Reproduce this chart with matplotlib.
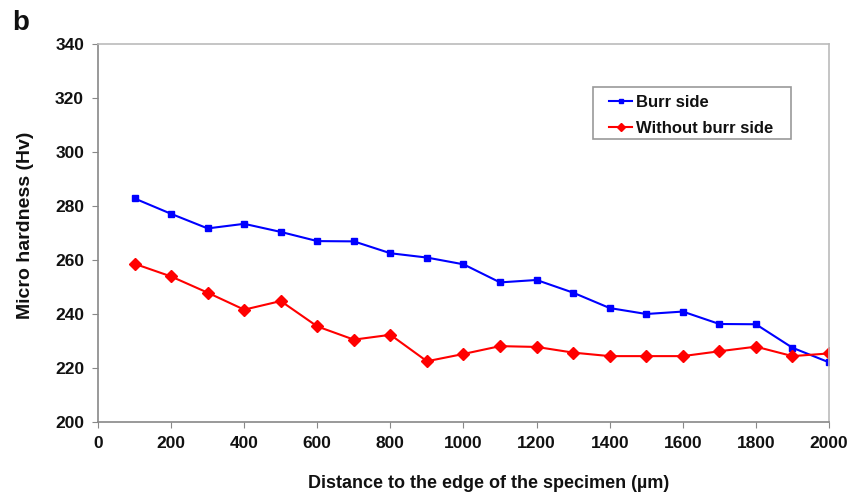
import matplotlib
matplotlib.use('Agg')
import matplotlib.pyplot as plt
from matplotlib.patches import Rectangle

# distance to edge (um)
distance = [100, 200, 300, 400, 500, 600, 700, 800, 900, 1000,
            1100, 1200, 1300, 1400, 1500, 1600, 1700, 1800, 1900, 2000]

# micro hardness (Hv)
burr_side = [282.8, 277.1, 271.7, 273.4, 270.4, 267.0, 266.9, 262.5, 260.9, 258.4,
             251.7, 252.6, 247.9, 242.2, 240.0, 240.9, 236.3, 236.2, 227.5, 222.1]
without_burr = [258.6, 253.9, 247.9, 241.6, 244.8, 235.4, 230.5, 232.3, 222.5, 225.2,
                228.1, 227.8, 225.7, 224.4, 224.4, 224.4, 226.2, 227.9, 224.4, 225.4]

xticks = list(range(0, 2001, 200))
yticks = list(range(200, 341, 20))

plt.rcParams['font.family'] = ['Liberation Sans', 'DejaVu Sans']
plt.rcParams['font.weight'] = 'bold'

fig = plt.figure(figsize=(8.62, 4.93), dpi=100)
ax = fig.add_axes([98 / 862, 71 / 493, 731 / 862, 378 / 493])

ax.plot(distance, burr_side, '-s', color='#0000ff', lw=1.5, ms=5, label='Burr side')
ax.plot(distance, without_burr, '-D', color='#ff0000', lw=1.5, ms=6, label='Without burr side')

ax.set_xlim(0, 2000)
ax.set_ylim(200, 340)
ax.set_xticks(xticks)
ax.set_yticks(yticks)
ax.tick_params(direction='out', length=4, color='#888888', labelsize=12.5, pad=6,
               labelcolor='#111111')
for lab in ax.get_xticklabels() + ax.get_yticklabels():
    lab.set_fontweight('bold')

for side in ['left', 'bottom']:
    ax.spines[side].set_color('#888888')
    ax.spines[side].set_linewidth(1.2)
for side in ['top', 'right']:
    ax.spines[side].set_color('#bbbbbb')
    ax.spines[side].set_linewidth(1.2)

ax.set_xlabel('Distance to the edge of the specimen (µm)', fontsize=13,
              fontweight='bold', color='#111111')
ax.xaxis.set_label_coords(0.535, -0.14)
ax.set_ylabel('Micro hardness (Hv)', fontsize=14, fontweight='bold', color='#111111')
ax.yaxis.set_label_coords(-0.087, 0.521)

# legend: entries without frame, box drawn separately (wider side padding)
leg = ax.legend(loc='upper left', bbox_to_anchor=(0.699, 0.866), borderaxespad=0,
                borderpad=0, fontsize=12, frameon=False, labelspacing=0.67,
                handlelength=1.4, handletextpad=0.2, markerscale=0.7)
for t in leg.get_texts():
    t.set_fontweight('bold')
    t.set_color('#111111')
ax.add_patch(Rectangle((0.677, 0.749), 0.271, 0.137, transform=ax.transAxes,
                       facecolor='white', edgecolor='#999999', lw=1.2, zorder=4))
leg.set_zorder(5)

fig.text(12 / 862, 1 - 30 / 493, 'b', fontsize=20, fontweight='bold', color='#111111')

fig.savefig('out.png', dpi=100)
